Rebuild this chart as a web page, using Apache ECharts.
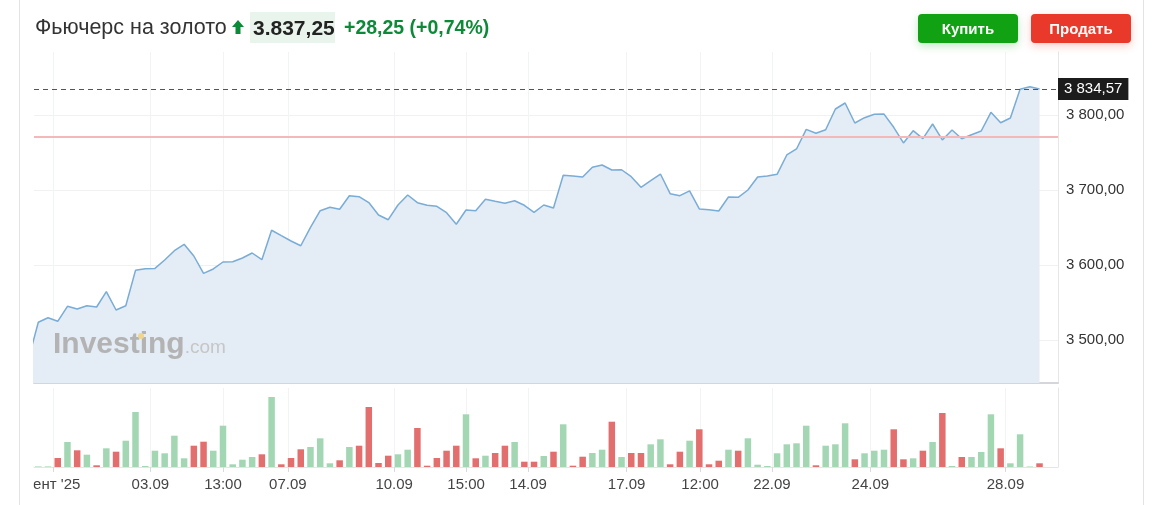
<!DOCTYPE html>
<html><head><meta charset="utf-8">
<script src="https://cdn.jsdelivr.net/npm/echarts@6/dist/echarts.min.js"></script>
<style>
html,body{margin:0;padding:0;background:#fff;}
body{width:1164px;height:505px;position:relative;overflow:hidden;font-family:Arial,"Liberation Sans",sans-serif;}
#frame{position:absolute;left:19px;top:0;width:1125px;height:505px;border-left:1px solid #e3e3e3;border-right:1px solid #e3e3e3;box-sizing:border-box;}
#chart{position:absolute;left:0;top:0;width:1164px;height:505px;}
.t{position:absolute;top:12px;height:31px;line-height:31px;white-space:nowrap;}
#name{left:35px;font-size:21.5px;color:#333;}
#arrow{position:absolute;left:232px;top:20px;}
#price{left:250px;width:85px;padding-left:3px;box-sizing:border-box;background:#e8f4ec;font-size:21px;font-weight:bold;color:#222;}
#chg{left:344px;font-size:19.5px;font-weight:bold;color:#0d8a38;}
.btn{position:absolute;top:14px;height:29px;line-height:29px;width:100px;border-radius:4px;color:#fff;font-weight:bold;font-size:15px;text-align:center;}
#buy{left:918px;background:#10a212;box-shadow:0 3px 8px rgba(16,162,18,0.25);}
#sell{left:1031px;background:#e8392b;box-shadow:0 3px 8px rgba(232,57,43,0.25);}
</style></head>
<body>
<div id="frame"></div>
<div id="chart"></div>
<div class="t" id="name">Фьючерс на золото</div>
<svg id="arrow" width="12" height="14" viewBox="0 0 12 14"><path d="M6 0 L12 7 L8.5 7 L8.5 14 L3.5 14 L3.5 7 L0 7 Z" fill="#0d8a38"/></svg>
<div class="t" id="price">3.837,25</div>
<div class="t" id="chg">+28,25 (+0,74%)</div>
<div class="btn" id="buy">Купить</div>
<div class="btn" id="sell">Продать</div>
<script>
// Price series (index -1 .. 103)
const prices = [3475.3, 3523.6, 3529.7, 3524.9, 3544.9, 3541.3, 3545.7, 3544.0, 3564.4, 3540.0,
 3545.7, 3592.9, 3595.1, 3595.5, 3606.7, 3619.1, 3627.6, 3612.0, 3588.9, 3594.7,
 3604.0, 3604.3, 3609.3, 3616.0, 3607.1, 3646.3, 3639.1, 3632.0, 3625.7, 3650.3,
 3672.4, 3676.9, 3674.3, 3692.4, 3691.1, 3683.3, 3666.7, 3660.4, 3680.0, 3693.3,
 3683.1, 3679.6, 3678.3, 3669.7, 3654.3, 3673.3, 3672.4, 3687.6, 3684.9, 3682.3,
 3685.7, 3679.6, 3670.3, 3680.0, 3676.0, 3719.6, 3718.7, 3717.3, 3730.3, 3733.3,
 3726.7, 3727.0, 3717.7, 3703.6, 3712.4, 3721.3, 3695.1, 3692.4, 3698.9, 3674.7,
 3673.7, 3672.0, 3690.7, 3690.3, 3700.0, 3717.3, 3718.7, 3720.9, 3746.7, 3754.7,
 3780.9, 3775.6, 3780.4, 3808.0, 3816.0, 3789.3, 3796.4, 3800.9, 3801.2, 3783.6,
 3762.7, 3779.1, 3768.4, 3788.0, 3766.7, 3780.0, 3768.4, 3773.7, 3778.7, 3803.6,
 3789.7, 3796.0, 3834.3, 3837.7, 3834.57];
// Volumes (same indices)
const volumes = [0, 60, 60, 900, 2500, 1670, 1230, 170, 1870, 1530,
 2630, 5500, 100, 1630, 1370, 3130, 870, 2130, 2530, 1630,
 4130, 270, 730, 1000, 1270, 7000, 270, 900, 1770, 2000,
 2870, 370, 670, 2000, 2130, 6000, 400, 1130, 1270, 1730,
 3900, 130, 900, 1630, 2130, 5270, 870, 1130, 1400, 2130,
 2500, 530, 530, 1100, 1530, 4270, 130, 1030, 1400, 1730,
 4530, 1000, 1400, 1400, 2270, 2770, 270, 1530, 2630, 3770,
 270, 630, 1730, 1630, 2870, 230, 100, 1370, 2270, 2370,
 4130, 170, 2130, 2270, 4370, 770, 1370, 1630, 1730, 3770,
 770, 870, 1630, 2500, 5400, 100, 1000, 1000, 1500, 5270,
 1870, 370, 3270, 50, 370];
const xTickPos = [1.51, 11.53, 19.0, 25.67, 36.61, 44.01, 50.39, 60.52, 68.08, 75.47, 85.6, 99.5];
const xTickLabels = ["сент '25", "03.09", "13:00", "07.09", "10.09", "15:00", "14.09", "17.09", "12:00", "22.09", "24.09", "28.09"];
const yTickValues = [3500, 3600, 3700, 3800];
const lastPrice = 3834.57;
const refLine = 3770.67;

function fmt(v) {
  const s = v.toFixed(2).split('.');
  return s[0].replace(/\B(?=(\d{3})+(?!\d))/g, ' ') + ',' + s[1];
}
const priceData = prices.map((v, i) => [i - 1, v]);
const volData = volumes.map((v, i) => {
  const up = i === 0 ? true : prices[i] >= prices[i - 1];
  return { value: [i - 1, v], itemStyle: { color: up ? '#a3d7b3' : '#e36e6e' } };
});
const xMin = -0.442, xMax = 104.9;
const chart = echarts.init(document.getElementById('chart'), null, { renderer: 'canvas' });
const xLabel = v => { const i = xTickPos.indexOf(v); return i >= 0 ? xTickLabels[i] : ''; };
chart.setOption({
  animation: false,
  textStyle: { fontFamily: 'Arial, "Liberation Sans", sans-serif' },
  grid: [
    { left: 34, right: 106, top: 52, height: 331 },
    { left: 34, right: 106, top: 388, height: 79 }
  ],
  xAxis: [
    { type: 'value', gridIndex: 0, min: xMin, max: xMax,
      axisLine: { show: true, onZero: false, lineStyle: { color: '#d3d6db', width: 2 } },
      axisTick: { show: false, customValues: xTickPos },
      axisLabel: { show: false, customValues: xTickPos },
      splitLine: { show: true, lineStyle: { color: '#f2f3f5' } } },
    { type: 'value', gridIndex: 1, min: xMin, max: xMax,
      axisLine: { show: true, onZero: false, lineStyle: { color: '#e2e5ea' } },
      axisTick: { show: true, customValues: xTickPos, length: 5, lineStyle: { color: '#d6d9de' } },
      axisLabel: { show: true, customValues: xTickPos, formatter: xLabel, color: '#444', fontSize: 15, margin: 10 },
      splitLine: { show: true, lineStyle: { color: '#f2f3f5' } } }
  ],
  yAxis: [
    { type: 'value', gridIndex: 0, position: 'right', min: 3442.67, max: 3884,
      axisLine: { show: true, onZero: false, lineStyle: { color: '#e6e6e6' } },
      axisTick: { show: false, customValues: yTickValues },
      axisLabel: { customValues: yTickValues, formatter: v => fmt(v), color: '#333', fontSize: 15, margin: 8 },
      splitLine: { show: true, lineStyle: { color: '#f1f1f1' } } },
    { type: 'value', gridIndex: 1, position: 'right', min: 0, max: 7900,
      axisLine: { show: true, onZero: false, lineStyle: { color: '#e6e6e6' } },
      axisTick: { show: false }, axisLabel: { show: false }, splitLine: { show: false } }
  ],
  series: [
    { type: 'line', xAxisIndex: 0, yAxisIndex: 0, data: priceData, symbol: 'none',
      lineStyle: { color: '#79acd6', width: 1.5 },
      areaStyle: { color: '#e4ecf5', opacity: 1 },
      markLine: { silent: true, symbol: 'none', animation: false,
        lineStyle: { color: '#555', type: [5, 4], width: 1 },
        data: [
          { yAxis: lastPrice,
            label: { show: true, position: 'end', distance: 0, formatter: fmt(lastPrice), backgroundColor: '#1c1c1c', color: '#fff', padding: [4, 6, 3, 6], fontSize: 15 } }
        ] } }
    ,
    { type: 'bar', xAxisIndex: 1, yAxisIndex: 1, data: volData, barWidth: 6.5 }
  ],
  graphic: { elements: [
    { id: 'wm', type: 'text', left: 53, top: 330, z: 50, style: { text: '{a|Investing}{b|.com}', rich: {
        a: { fontSize: 30, fontWeight: 'bold', fill: '#b3b3b3', fontFamily: 'Arial' },
        b: { fontSize: 19, fill: '#c6c6c6', fontFamily: 'Arial', padding: [6, 0, 0, 0] } } } },
    { id: 'dot', type: 'circle', z: 51, shape: { cx: 141, cy: 336, r: 3 }, style: { fill: '#f0d58c' } },
    { id: 'mask', type: 'rect', z: 100, shape: { x: 20, y: 470, width: 13.5, height: 30 }, style: { fill: '#fff' } }
  ] }
});
// reference (previous close) line, drawn at its axis coordinate
const yRef = Math.round(chart.convertToPixel({ yAxisIndex: 0 }, refLine));
chart.setOption({ graphic: { elements: [ { id: 'ref', type: 'line', z: 40, silent: true,
  shape: { x1: 34, y1: yRef, x2: 1058, y2: yRef }, style: { stroke: '#f5b8b8', lineWidth: 2 } } ] } });
</script>
</body></html>
